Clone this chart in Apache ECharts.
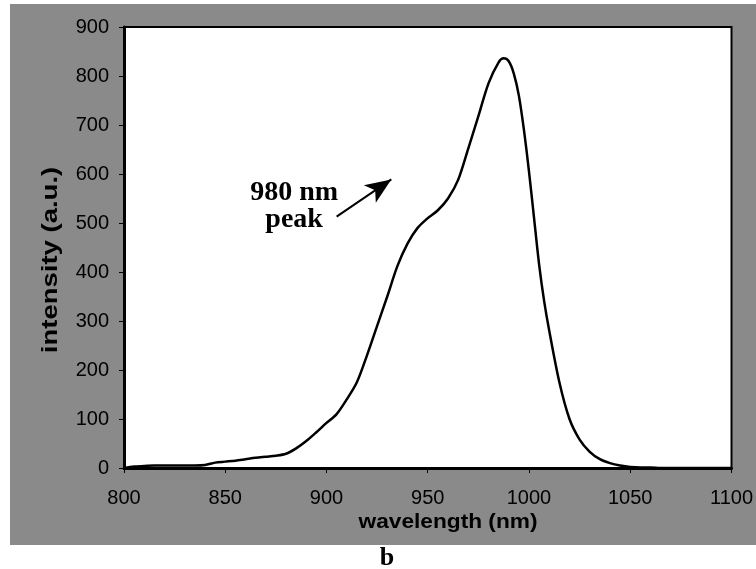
<!DOCTYPE html>
<html>
<head>
<meta charset="utf-8">
<script src="https://cdn.jsdelivr.net/npm/echarts@6/dist/echarts.min.js"></script>
<style>
  html, body { margin: 0; padding: 0; background: #fff; }
  #chart { width: 756px; height: 569px; }
</style>
</head>
<body>
<div id="chart"></div>
<script>
// Emission spectrum: wavelength (nm) vs intensity (a.u.)
const wavelength = [800, 805, 810, 815, 820, 825, 830, 835, 840, 845, 850, 855, 860, 865, 870, 875, 880, 885, 890, 895,
  900, 905, 910, 915, 920, 925, 930, 935, 940, 945, 950, 955, 960, 965, 970, 975, 980, 985, 987.5, 990, 992.5, 995, 997.5,
  1000, 1002.5, 1005, 1007.5, 1010, 1015, 1020, 1025, 1030, 1035, 1040, 1045, 1050, 1055, 1060, 1065, 1070, 1080, 1090, 1100];
const intensity = [0, 3, 4, 5, 5, 5, 5, 5, 6, 11, 13, 15, 18, 21, 23, 25, 29, 40, 55, 73,
  92, 110, 140, 175, 230, 290, 350, 412, 458, 490, 510, 526, 550, 588, 652, 718, 785, 828, 836, 830, 805, 760, 690,
  605, 510, 415, 340, 280, 175, 100, 58, 33, 18, 10, 5, 2, 1, 1, 0, 0, 0, 0, 0];

const xTicks = { min: 800, max: 1100, step: 50 };
const yTicks = { min: 0, max: 900, step: 100 };

// Annotation arrow (data coordinates) and its label
const arrowFrom = [905, 513];
const arrowTo = [932, 589];
const annotationAt = [884, 534];
const annotationText = '980 nm\npeak';

const chart = echarts.init(document.getElementById('chart'));

const sans = 'Liberation Sans, Arial, sans-serif';
const serif = 'Liberation Serif, Times New Roman, serif';

chart.setOption({
  animation: false,
  backgroundColor: '#fff',
  graphic: [
    {
      type: 'rect', z: -10, silent: true,
      shape: { x: 10, y: 4, width: 746, height: 541 },
      style: { fill: '#8a8a8a' }
    },
    {
      type: 'text', x: 448, y: 522, scaleX: 1.08,
      style: { text: 'wavelength (nm)', font: 'bold 21px ' + sans, fill: '#000', align: 'center', verticalAlign: 'middle' }
    },
    {
      type: 'text', x: 51, y: 260, rotation: Math.PI / 2, scaleX: 1.25,
      style: { text: 'intensity (a.u.)', font: 'bold 22px ' + sans, fill: '#000', align: 'center', verticalAlign: 'middle' }
    },
    {
      type: 'text', x: 387, y: 558,
      style: { text: 'b', font: 'bold 26px ' + serif, fill: '#000', align: 'center', verticalAlign: 'middle' }
    }
  ],
  grid: {
    left: 124, top: 27, right: 20, bottom: 101,
    show: true, backgroundColor: '#fff', borderColor: '#000', borderWidth: 2
  },
  xAxis: {
    type: 'value',
    min: xTicks.min, max: xTicks.max, interval: xTicks.step,
    axisLine: { show: true, onZero: false, lineStyle: { color: '#000', width: 3 } },
    axisTick: { show: true, inside: false, length: 5, lineStyle: { color: '#000', width: 1 } },
    axisLabel: { color: '#000', fontFamily: sans, fontSize: 20, margin: 20, formatter: v => String(v) },
    splitLine: { show: false }
  },
  yAxis: {
    type: 'value',
    min: yTicks.min, max: yTicks.max, interval: yTicks.step,
    axisLine: { show: true, lineStyle: { color: '#000', width: 3 } },
    axisTick: { show: true, inside: false, length: 5, lineStyle: { color: '#000', width: 1 } },
    axisLabel: { color: '#000', fontFamily: sans, fontSize: 20, margin: 15, formatter: v => String(v) },
    splitLine: { show: false }
  },
  series: [
    {
      type: 'line',
      data: wavelength.map((w, i) => [w, intensity[i]]),
      showSymbol: false,
      smooth: 0.3,
      lineStyle: { color: '#000', width: 2.5 },
      markLine: {
        silent: true,
        symbol: ['none', 'arrow'],
        symbolSize: [16, 26],
        label: { show: false },
        lineStyle: { color: '#000', width: 2, type: 'solid' },
        data: [[{ coord: arrowFrom }, { coord: arrowTo }]]
      },
      markPoint: {
        silent: true,
        symbol: 'circle',
        symbolSize: 1,
        itemStyle: { color: 'rgba(0,0,0,0)' },
        data: [{ coord: annotationAt }],
        label: {
          show: true,
          position: 'inside',
          formatter: annotationText,
          fontFamily: serif,
          fontWeight: 'bold',
          fontSize: 28,
          color: '#000',
          align: 'center',
          verticalAlign: 'middle',
          lineHeight: 27
        }
      }
    }
  ]
});
</script>
</body>
</html>
